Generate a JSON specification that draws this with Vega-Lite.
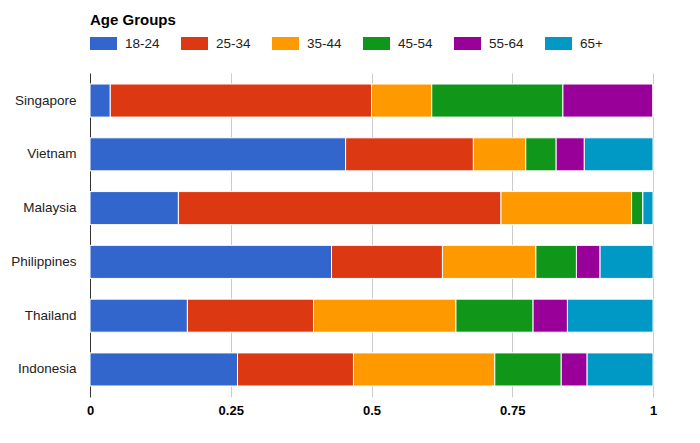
{
  "$schema": "https://vega.github.io/schema/vega-lite/v6.json",
  "width": 563,
  "height": 324,
  "autosize": {"type": "none"},
  "padding": {"left": 90, "top": 73, "right": 47, "bottom": 46},
  "background": "white",
  "data": {
    "values": [
      {"country": "Singapore", "age": "18-24", "share": 0.036},
      {"country": "Singapore", "age": "25-34", "share": 0.464},
      {"country": "Singapore", "age": "35-44", "share": 0.107},
      {"country": "Singapore", "age": "45-54", "share": 0.233},
      {"country": "Singapore", "age": "55-64", "share": 0.160},
      {"country": "Singapore", "age": "65+", "share": 0},
      {"country": "Vietnam", "age": "18-24", "share": 0.454},
      {"country": "Vietnam", "age": "25-34", "share": 0.227},
      {"country": "Vietnam", "age": "35-44", "share": 0.093},
      {"country": "Vietnam", "age": "45-54", "share": 0.054},
      {"country": "Vietnam", "age": "55-64", "share": 0.050},
      {"country": "Vietnam", "age": "65+", "share": 0.122},
      {"country": "Malaysia", "age": "18-24", "share": 0.157},
      {"country": "Malaysia", "age": "25-34", "share": 0.573},
      {"country": "Malaysia", "age": "35-44", "share": 0.232},
      {"country": "Malaysia", "age": "45-54", "share": 0.020},
      {"country": "Malaysia", "age": "55-64", "share": 0},
      {"country": "Malaysia", "age": "65+", "share": 0.018},
      {"country": "Philippines", "age": "18-24", "share": 0.429},
      {"country": "Philippines", "age": "25-34", "share": 0.197},
      {"country": "Philippines", "age": "35-44", "share": 0.166},
      {"country": "Philippines", "age": "45-54", "share": 0.072},
      {"country": "Philippines", "age": "55-64", "share": 0.042},
      {"country": "Philippines", "age": "65+", "share": 0.094},
      {"country": "Thailand", "age": "18-24", "share": 0.173},
      {"country": "Thailand", "age": "25-34", "share": 0.224},
      {"country": "Thailand", "age": "35-44", "share": 0.253},
      {"country": "Thailand", "age": "45-54", "share": 0.137},
      {"country": "Thailand", "age": "55-64", "share": 0.061},
      {"country": "Thailand", "age": "65+", "share": 0.152},
      {"country": "Indonesia", "age": "18-24", "share": 0.262},
      {"country": "Indonesia", "age": "25-34", "share": 0.206},
      {"country": "Indonesia", "age": "35-44", "share": 0.251},
      {"country": "Indonesia", "age": "45-54", "share": 0.118},
      {"country": "Indonesia", "age": "55-64", "share": 0.046},
      {"country": "Indonesia", "age": "65+", "share": 0.117}
    ]
  },
  "mark": {"type": "bar", "stroke": "white", "strokeWidth": 1},
  "encoding": {
    "y": {
      "field": "country",
      "type": "nominal",
      "sort": ["Singapore", "Vietnam", "Malaysia", "Philippines", "Thailand", "Indonesia"],
      "scale": {"paddingInner": 0.385, "paddingOuter": 0.205},
      "axis": {
        "title": null,
        "domain": false,
        "ticks": false,
        "labelFont": "Liberation Sans",
        "labelFontSize": 13.5,
        "labelColor": "#222",
        "labelPadding": 14
      }
    },
    "x": {
      "field": "share",
      "type": "quantitative",
      "stack": true,
      "scale": {"domain": [0, 1], "nice": false},
      "axis": {
        "title": null,
        "values": [0, 0.25, 0.5, 0.75, 1],
        "format": ".2~f",
        "domain": false,
        "ticks": false,
        "labelFlush": false,
        "labelFont": "Liberation Sans",
        "labelFontSize": 13,
        "labelFontWeight": "bold",
        "labelColor": "#000",
        "labelPadding": 7,
        "grid": true,
        "gridColor": {"condition": {"test": "datum.value === 0", "value": "#333"}, "value": "#ccc"},
        "gridOpacity": 1
      }
    },
    "color": {
      "field": "age",
      "type": "nominal",
      "scale": {
        "domain": ["18-24", "25-34", "35-44", "45-54", "55-64", "65+"],
        "range": ["#3366cc", "#dc3912", "#ff9900", "#109618", "#990099", "#0099c6"]
      },
      "legend": {
        "title": "Age Groups",
        "orient": "none",
        "legendX": 0,
        "legendY": -60,
        "direction": "horizontal",
        "columns": 6,
        "columnPadding": 21,
        "symbolType": "M-1,-0.48 h2 v0.96 h-2 Z",
        "symbolSize": 729,
        "symbolStrokeWidth": 0,
        "symbolOpacity": 1,
        "labelOffset": 8,
        "labelFont": "Liberation Sans",
        "labelFontSize": 13.5,
        "labelColor": "#222",
        "titleFont": "Liberation Sans",
        "titleFontSize": 15,
        "titleFontWeight": "bold",
        "titleColor": "#000",
        "titlePadding": 2
      }
    },
    "order": {"field": "age", "sort": "ascending"}
  },
  "config": {"view": {"stroke": null}}
}
